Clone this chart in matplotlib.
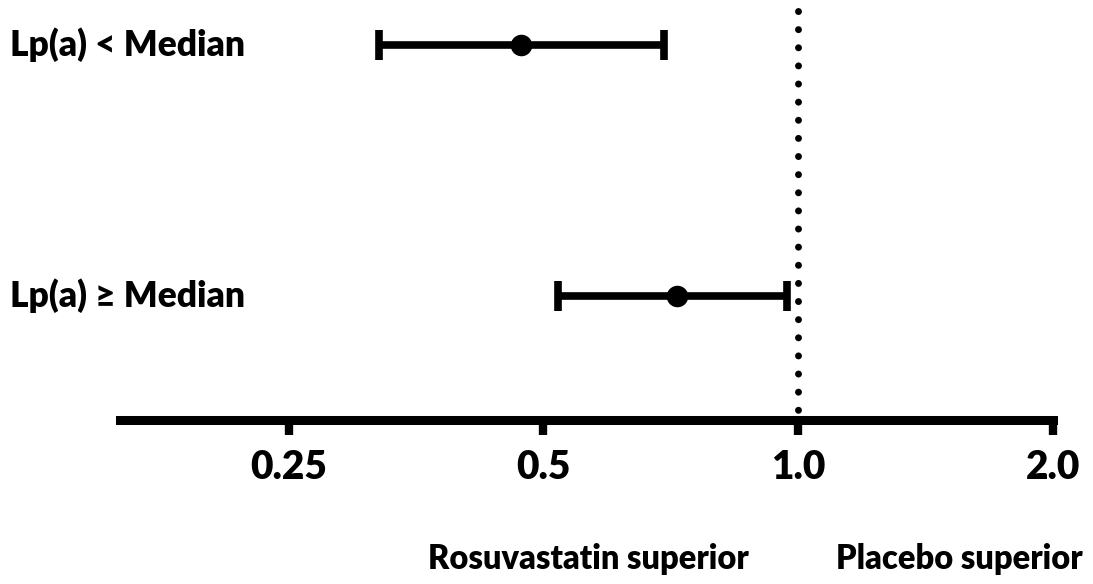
import matplotlib
matplotlib.use("Agg")
import matplotlib.pyplot as plt
from matplotlib.transforms import blended_transform_factory
from matplotlib.ticker import FixedLocator, NullLocator

plt.rcParams["font.family"] = ["Lato", "DejaVu Sans"]
plt.rcParams["font.weight"] = "heavy"

# hazard ratios with 95% CI
groups = ["Lp(a) < Median", "Lp(a) \u2265 Median"]
hr = [0.47, 0.72]
ci_low = [0.32, 0.52]
ci_high = [0.695, 0.97]

tick_vals = [0.25, 0.5, 1.0, 2.0]
tick_labels = ["0.25", "0.5", "1.0", "2.0"]
favours = ["Rosuvastatin superior", "Placebo superior"]

W, H = 1093, 584
fig = plt.figure(figsize=(W / 100, H / 100), dpi=100)
ax = fig.add_axes([120 / W, 1 - 420 / H, (1053 - 120) / W, 420 / H])

ax.set_xscale("log", base=2)
ax.set_xlim(0.158, 2.0)
ax.set_ylim(1.494, -0.179)

ypos = list(range(len(groups)))
err = [[h - l for h, l in zip(hr, ci_low)], [u - h for h, u in zip(hr, ci_high)]]
ax.errorbar(hr, ypos, xerr=err, fmt="o", color="black", ms=14.5,
            elinewidth=5.5, capsize=11, capthick=5.5, zorder=3)

# null line at HR = 1, dots start from the top
ax.plot([1.0, 1.0], [0.975, 0.0], transform=ax.get_xaxis_transform(),
        color="black", lw=5, linestyle=(0, (0.01, 2.6)),
        dash_capstyle="round", zorder=2)

for s in ["top", "right", "left"]:
    ax.spines[s].set_visible(False)
ax.spines["bottom"].set_linewidth(6.5)
ax.spines["bottom"].set_capstyle("projecting")

ax.xaxis.set_major_locator(FixedLocator(tick_vals))
ax.xaxis.set_minor_locator(NullLocator())
ax.set_xticklabels(tick_labels)
ax.tick_params(axis="x", direction="out", length=11, width=6, pad=10,
               labelsize=28)
ax.set_yticks([])

tr = blended_transform_factory(fig.transFigure, ax.transData)
for y, g in zip(ypos, groups):
    ax.text(10 / W, y, g, transform=tr, ha="left", va="center",
            fontsize=25.5, clip_on=False)

fig.text(588 / W, 1 - 559 / H, favours[0], ha="center", va="center",
         fontsize=23.5)
fig.text(959 / W, 1 - 559 / H, favours[1], ha="center", va="center",
         fontsize=23.5)

fig.savefig("out.png", dpi=100)
